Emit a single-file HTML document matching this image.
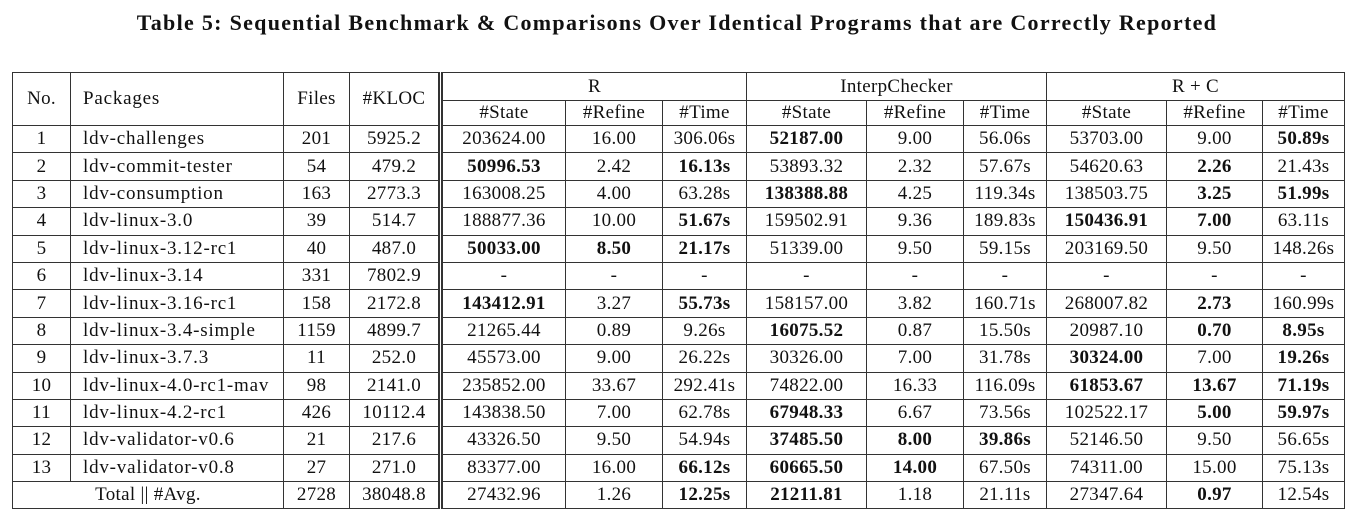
<!DOCTYPE html>
<html><head><meta charset="utf-8"><style>
body{margin:0;width:1354px;height:521px;background:#fff;font-family:"Liberation Serif",serif;color:#111;position:relative;overflow:hidden}
h1{position:absolute;top:10px;left:0;width:1354px;margin:0;text-align:center;font-size:22px;letter-spacing:1.3px;font-weight:bold}
table{position:absolute;left:12px;top:72px;border-collapse:collapse;table-layout:fixed;font-size:19px;letter-spacing:0.3px}
td,th{border:1px solid #333;padding:0;text-align:center;font-weight:normal;white-space:nowrap;height:26.4px;line-height:20px;overflow:hidden}
.l{text-align:left;padding-left:12px;letter-spacing:0.8px}
.d{border-left:5px double #333}
b{font-weight:bold}
tr.h1 th{height:27px}
tr.h2 th{height:24px}
</style></head><body>
<h1>Table 5: Sequential Benchmark &amp; Comparisons Over Identical Programs that are Correctly Reported</h1>
<table>
<colgroup><col style="width:58px"><col style="width:213px"><col style="width:66px"><col style="width:91px"><col style="width:125px"><col style="width:97px"><col style="width:84px"><col style="width:120px"><col style="width:97px"><col style="width:83px"><col style="width:120px"><col style="width:96px"><col style="width:82px"></colgroup>
<tr class="h1"><th rowspan="2">No.</th><th rowspan="2" class="l">Packages</th><th rowspan="2">Files</th><th rowspan="2">#KLOC</th><th colspan="3" class="d">R</th><th colspan="3">InterpChecker</th><th colspan="3">R + C</th></tr>
<tr class="h2"><th class="d">#State</th><th>#Refine</th><th>#Time</th><th>#State</th><th>#Refine</th><th>#Time</th><th>#State</th><th>#Refine</th><th>#Time</th></tr>
<tbody id="tb"></tbody>
</table>
<script>
const rows=[
["1","ldv-challenges","201","5925.2","203624.00","16.00","306.06s","*52187.00","9.00","56.06s","53703.00","9.00","*50.89s"],
["2","ldv-commit-tester","54","479.2","*50996.53","2.42","*16.13s","53893.32","2.32","57.67s","54620.63","*2.26","21.43s"],
["3","ldv-consumption","163","2773.3","163008.25","4.00","63.28s","*138388.88","4.25","119.34s","138503.75","*3.25","*51.99s"],
["4","ldv-linux-3.0","39","514.7","188877.36","10.00","*51.67s","159502.91","9.36","189.83s","*150436.91","*7.00","63.11s"],
["5","ldv-linux-3.12-rc1","40","487.0","*50033.00","*8.50","*21.17s","51339.00","9.50","59.15s","203169.50","9.50","148.26s"],
["6","ldv-linux-3.14","331","7802.9","-","-","-","-","-","-","-","-","-"],
["7","ldv-linux-3.16-rc1","158","2172.8","*143412.91","3.27","*55.73s","158157.00","3.82","160.71s","268007.82","*2.73","160.99s"],
["8","ldv-linux-3.4-simple","1159","4899.7","21265.44","0.89","9.26s","*16075.52","0.87","15.50s","20987.10","*0.70","*8.95s"],
["9","ldv-linux-3.7.3","11","252.0","45573.00","9.00","26.22s","30326.00","7.00","31.78s","*30324.00","7.00","*19.26s"],
["10","ldv-linux-4.0-rc1-mav","98","2141.0","235852.00","33.67","292.41s","74822.00","16.33","116.09s","*61853.67","*13.67","*71.19s"],
["11","ldv-linux-4.2-rc1","426","10112.4","143838.50","7.00","62.78s","*67948.33","6.67","73.56s","102522.17","*5.00","*59.97s"],
["12","ldv-validator-v0.6","21","217.6","43326.50","9.50","54.94s","*37485.50","*8.00","*39.86s","52146.50","9.50","56.65s"],
["13","ldv-validator-v0.8","27","271.0","83377.00","16.00","*66.12s","*60665.50","*14.00","67.50s","74311.00","15.00","75.13s"],
["TOTAL","Total || #Avg.","2728","38048.8","27432.96","1.26","*12.25s","*21211.81","1.18","21.11s","27347.64","*0.97","12.54s"]];
const tb=document.getElementById('tb');
rows.forEach((r,ri)=>{
 const tr=document.createElement('tr');
 
 
 let start=0;
 if(r[0]==='TOTAL'){const td=document.createElement('td');td.colSpan=2;td.textContent=r[1];
  
  
  tr.appendChild(td);start=2;}
 for(let i=start;i<r.length;i++){
  const td=document.createElement('td');
  
  
  let v=r[i];
  if(v.startsWith('*')){const b=document.createElement('b');b.textContent=v.slice(1);td.appendChild(b);}else td.textContent=v;
  if(i===1)td.className='l';
  if(i===4)td.className='d';
  tr.appendChild(td);
 }
 tb.appendChild(tr);
});
</script>
</body></html>
